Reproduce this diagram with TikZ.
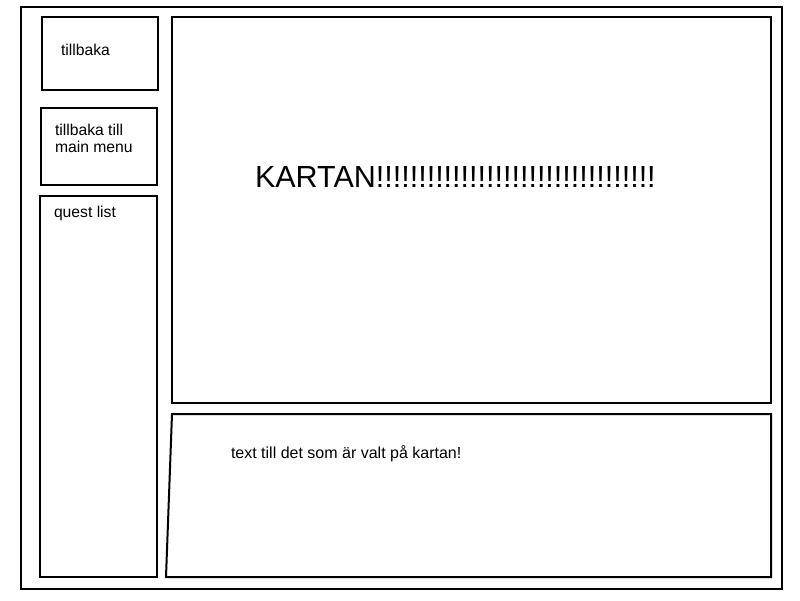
\documentclass[tikz,border=0pt]{standalone}
\usepackage{fontspec}
\setmainfont{Liberation Sans}
\begin{document}
\begin{tikzpicture}[x=1pt,y=-1pt,
  frame/.style={draw=black,line width=2pt},
  lbl/.style={anchor=base west,inner sep=0pt,outer sep=0pt,font=\fontsize{15.7}{17}\selectfont,align=left},
  big/.style={anchor=base west,inner sep=0pt,outer sep=0pt,font=\fontsize{30.5}{32}\selectfont}]
\useasboundingbox[fill=white] (0,0) rectangle (800,600);
% outer frame
\draw[frame] (21,7) rectangle (782,589);
% left column
\draw[frame] (42,17) rectangle (158,90);
\draw[frame] (41,108) rectangle (157,185);
\draw[frame] (40,196) rectangle (157,577);
% map area
\draw[frame] (172,17) rectangle (771,403);
% info area
\draw[frame] (172,414) -- (771,414) -- (771,577) -- (166,577) -- cycle;
% texts
\node[lbl] (back) at (61,55) {tillbaka};
\node[lbl] (menu1) at (55,135) {tillbaka till};
\node[lbl] (menu2) at (55,152) {main menu};
\node[lbl] (quest) at (54,217) {quest list};
\node[big] (map) at (255,187) {KARTAN!!!!!!!!!!!!!!!!!!!!!!!!!!!!!!!!!};
\node[lbl,font=\fontsize{16}{18}\selectfont] (info) at (231,458) {text till det som är valt på kartan!};
\end{tikzpicture}
\end{document}
